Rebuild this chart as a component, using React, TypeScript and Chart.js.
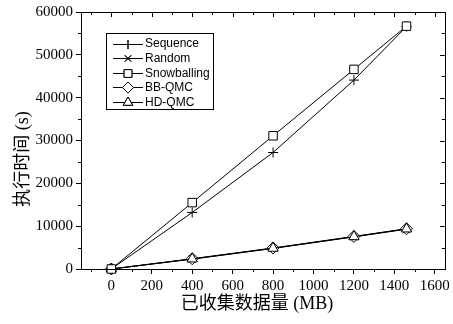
import React, { useEffect, useRef } from 'react';
import { Chart, registerables } from 'chart.js';
import { drawPoint } from 'chart.js/helpers';

Chart.register(...registerables);

const xValues = [0, 400, 800, 1200, 1460];
const sequence = [0, 13200, 27200, 44100, 56600];
const random = [0, 2300, 4800, 7500, 9300];
const snowballing = [0, 15500, 31100, 46600, 56700];
const bbQmc = [0, 2400, 4900, 7600, 9400];
const hdQmc = [0, 2350, 4850, 7550, 9350];
const seriesLabels = ['Sequence', 'Random', 'Snowballing', 'BB-QMC', 'HD-QMC'];
const seriesStyles = ['cross', 'crossRot', 'rect', 'rectRot', 'triangle'];
const seriesRadius = [5, 5, 6, 6, 6];
const seriesOrder = [1, 4, 0, 3, 2];
const xTicks = [0, 200, 400, 600, 800, 1000, 1200, 1400, 1600];
const yTicks = [0, 10000, 20000, 30000, 40000, 50000, 60000];
const xTitle = '已收集数据量 (MB)';
const yTitle = '执行时间 (s)';

const tickFont = { family: '"Liberation Serif", "Times New Roman", serif', size: 15 };

const framePlugin = {
  id: 'frame',
  afterDraw(chart: any) {
    const ctx = chart.ctx;
    const { left, right, top, bottom } = chart.chartArea;
    const xs = chart.scales.x;
    const ys = chart.scales.y;
    ctx.save();
    ctx.strokeStyle = '#000';
    ctx.lineWidth = 1;
    ctx.strokeRect(Math.round(left) + 0.5, Math.round(top) + 0.5, Math.round(right - left), Math.round(bottom - top));
    ctx.beginPath();
    for (let v = -100; v <= 1600; v += 100) {
      const px = Math.round(xs.getPixelForValue(v)) + 0.5;
      const major = v % 200 === 0;
      if (!major) {
        ctx.moveTo(px, bottom);
        ctx.lineTo(px, bottom + 3);
      }
      ctx.moveTo(px, top);
      ctx.lineTo(px, top + (major ? 5 : 3));
    }
    for (let v = 0; v <= 60000; v += 5000) {
      const py = Math.round(ys.getPixelForValue(v)) + 0.5;
      const major = v % 10000 === 0;
      if (!major) {
        ctx.moveTo(left, py);
        ctx.lineTo(left - 3, py);
      }
      ctx.moveTo(right, py);
      ctx.lineTo(right - (major ? 5 : 3), py);
    }
    ctx.stroke();

    // legend
    const bx = 106.5, by = 33.5, bw = 107, bh = 76;
    ctx.fillStyle = '#fff';
    ctx.fillRect(bx, by, bw, bh);
    ctx.strokeRect(bx, by, bw, bh);
    ctx.font = '12px "Liberation Sans", Arial, sans-serif';
    ctx.textAlign = 'left';
    ctx.textBaseline = 'middle';
    seriesLabels.forEach((label, i) => {
      const y = 43.5 + i * 14.6;
      ctx.beginPath();
      ctx.moveTo(113, Math.round(y) + 0.5);
      ctx.lineTo(143, Math.round(y) + 0.5);
      ctx.stroke();
      ctx.fillStyle = '#fff';
      drawPoint(ctx, { pointStyle: seriesStyles[i], radius: seriesRadius[i] - 0.5, rotation: 0, borderWidth: 1 }, 128, Math.round(y) + 0.5);
      ctx.fill();
      ctx.stroke();
      ctx.fillStyle = '#000';
      ctx.fillText(label, 145, y + 0.5);
    });

    // titles
    ctx.fillStyle = '#000';
    ctx.font = '18px "Liberation Serif", "Noto Sans CJK SC", serif';
    ctx.textAlign = 'center';
    ctx.textBaseline = 'middle';
    ctx.fillText(xTitle, 257, 304);
    ctx.translate(23, 159);
    ctx.rotate(-Math.PI / 2);
    ctx.fillText(yTitle, 0, 0);
    ctx.restore();
  },
};

export default function App() {
  const ref = useRef<HTMLCanvasElement | null>(null);
  useEffect(() => {
    if (!ref.current) return;
    const all = [sequence, random, snowballing, bbQmc, hdQmc];
    const chart = new Chart(ref.current, {
      type: 'line',
      data: {
        datasets: all.map((vals, i) => ({
          label: seriesLabels[i],
          data: xValues.map((x, j) => ({ x, y: vals[j] })),
          order: seriesOrder[i],
          borderColor: '#000',
          borderWidth: 1,
          backgroundColor: '#fff',
          pointStyle: seriesStyles[i] as any,
          pointRadius: seriesRadius[i],
          pointBorderColor: '#000',
          pointBackgroundColor: '#fff',
          pointBorderWidth: 1,
          tension: 0,
          fill: false,
          clip: false as any,
        })),
      },
      options: {
        responsive: false,
        animation: false,
        devicePixelRatio: 1,
        layout: { padding: { left: 0, top: 12, right: 5, bottom: 0 } },
        plugins: { legend: { display: false }, tooltip: { enabled: false } },
        scales: {
          x: {
            type: 'linear',
            min: -150,
            max: 1650,
            afterBuildTicks: (s: any) => {
              s.ticks = xTicks.map((v) => ({ value: v }));
            },
            afterFit: (s: any) => {
              s.height = 55;
            },
            ticks: { font: tickFont, color: '#000', padding: 3, maxRotation: 0, autoSkip: false, callback: (v: any) => String(v) },
            grid: { display: true, drawOnChartArea: false, drawTicks: true, tickLength: 5, color: '#000' },
            border: { display: true, color: '#000', width: 1 },
          },
          y: {
            type: 'linear',
            min: 0,
            max: 60000,
            afterBuildTicks: (s: any) => {
              s.ticks = yTicks.map((v) => ({ value: v }));
            },
            afterFit: (s: any) => {
              s.width = 81;
            },
            ticks: { font: tickFont, color: '#000', padding: 3, autoSkip: false, callback: (v: any) => String(v) },
            grid: { display: true, drawOnChartArea: false, drawTicks: true, tickLength: 5, color: '#000' },
            border: { display: true, color: '#000', width: 1 },
          },
        },
      },
      plugins: [framePlugin],
    });
    return () => chart.destroy();
  }, []);
  return (
    <div style={{ position: 'fixed', left: 0, top: 0, width: 453, height: 324, background: '#fff' }}>
      <canvas ref={ref} width={453} height={324} />
    </div>
  );
}
